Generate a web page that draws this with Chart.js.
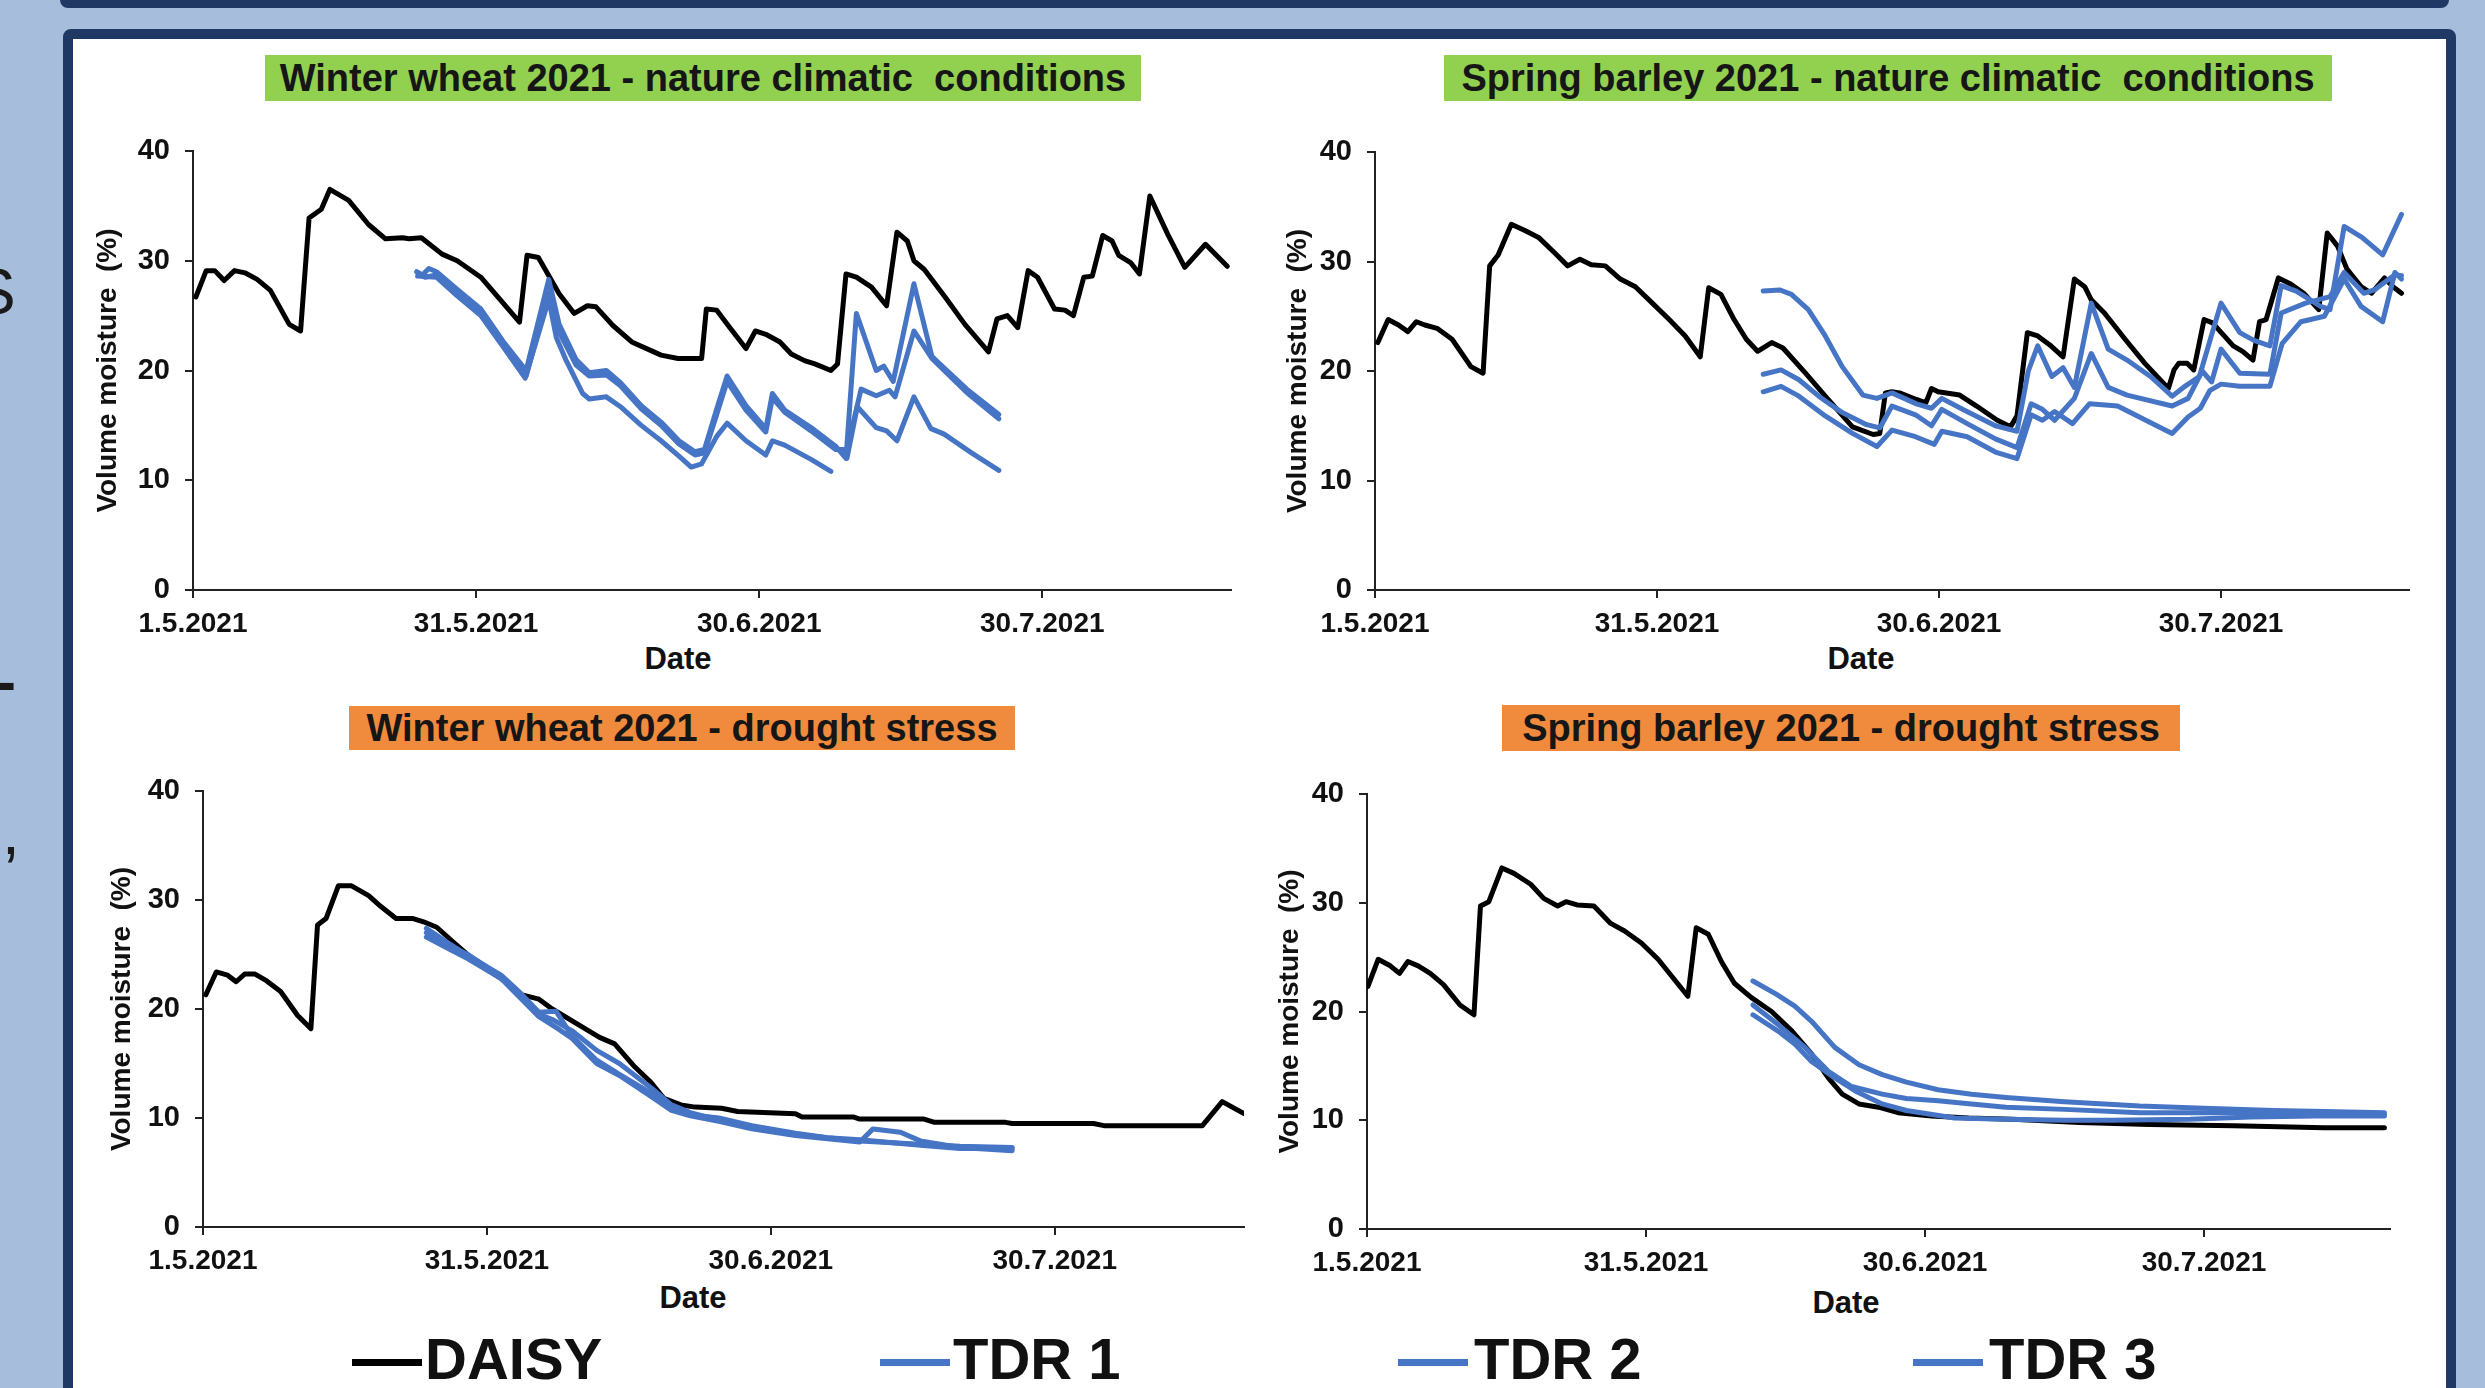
<!DOCTYPE html>
<html>
<head>
<meta charset="utf-8">
<title>Volume moisture 2021</title>
<script src="https://cdn.jsdelivr.net/npm/chart.js@4.4.1/dist/chart.umd.min.js"></script>
<style>
  html, body { margin: 0; padding: 0; }
  body {
    width: 2485px; height: 1388px; overflow: hidden; position: relative;
    background: #a6bddc; font-family: 'Liberation Sans', Arial, sans-serif; color: #111;
  }
  .topbar { position: absolute; left: 60px; top: -14px; width: 2389px; height: 22px; background: #1f3864; border-radius: 8px; }
  .panel {
    position: absolute; left: 63px; top: 29px; width: 2393px; height: 1420px; box-sizing: border-box;
    background: #fff; border: 10px solid #1f3864; border-radius: 8px;
  }
  .frag { position: absolute; font-size: 64px; line-height: 1; color: #1a1a1a; }
  .title {
    position: absolute; height: 46px; display: flex; align-items: center; justify-content: center;
    font-weight: bold; font-size: 38px; color: #161616; white-space: pre;
  }
  .green { background: #92d050; }
  .orange { background: #f08a3c; }
  .xtitle { position: absolute; font-size: 31px; font-weight: bold; line-height: 1; transform: translate(-50%, -50%); }
  .leg-line { position: absolute; height: 7px; }
  .leg-text { position: absolute; top: 1330px; font-size: 58px; font-weight: bold; line-height: 58px; }
  canvas { position: absolute; }
</style>
</head>
<body>
<div class="topbar"></div>
<div class="frag" style="left:-27px; top:260px;">S</div>
<div class="frag" style="left:-4px; top:652px; font-size:60px; font-weight:bold;">-</div>
<div class="frag" style="left:2px; top:800px;">,</div>
<div class="panel"></div>

<div class="title green" style="left:265px; top:55px; width:876px;">Winter wheat 2021 - nature climatic  conditions</div>
<div class="title green" style="left:1444px; top:55px; width:888px;">Spring barley 2021 - nature climatic  conditions</div>
<div class="title orange" style="left:349px; top:706px; width:666px; height:44px;">Winter wheat 2021 - drought stress</div>
<div class="title orange" style="left:1502px; top:705px; width:678px;">Spring barley 2021 - drought stress</div>

<div class="xtitle" style="left:678px; top:658px;">Date</div>
<div class="xtitle" style="left:1861px; top:658px;">Date</div>
<div class="xtitle" style="left:693px; top:1297px;">Date</div>
<div class="xtitle" style="left:1846px; top:1302px;">Date</div>

<div id="legend"></div>

<script>
const DAY_MAX = 110;
const dateTicks = [0, 30, 60, 90];
const dateLabels = ['1.5.2021', '31.5.2021', '30.6.2021', '30.7.2021'];
const moistureTicks = [0, 10, 20, 30, 40];
const seriesNames = ['DAISY', 'TDR 1', 'TDR 2', 'TDR 3'];

// [day since 1.5.2021, volume moisture %]
// Winter wheat - nature climatic conditions
const wheatNatDaisy = [[0.3,26.7],[1.4,29.1],[2.3,29.1],[3.3,28.2],[4.4,29.1],[5.5,28.9],[6.8,28.3],[8.2,27.3],[10.2,24.2],[11.4,23.6],[12.3,33.9],[13.6,34.7],[14.5,36.5],[16.5,35.5],[18.6,33.3],[20.4,32.0],[22.2,32.1],[22.9,32.0],[24.2,32.1],[26.4,30.6],[28.0,30.0],[30.5,28.5],[32.3,26.7],[34.6,24.4],[35.4,30.5],[36.6,30.3],[38.8,27.0],[40.4,25.2],[41.8,25.9],[42.7,25.8],[44.5,24.1],[46.5,22.6],[49.6,21.4],[51.4,21.1],[53.9,21.1],[54.4,25.6],[55.5,25.5],[56.9,23.9],[58.6,22.0],[59.6,23.6],[60.7,23.3],[62.2,22.6],[63.4,21.5],[64.8,20.9],[65.9,20.6],[67.6,20.0],[68.3,20.6],[69.2,28.8],[70.3,28.5],[71.9,27.6],[73.5,25.9],[74.6,32.6],[75.7,31.8],[76.4,30.0],[77.5,29.2],[79.7,26.7],[81.8,24.2],[84.3,21.7],[85.2,24.7],[86.3,25.0],[87.4,23.9],[88.5,29.1],[89.5,28.5],[91.3,25.6],[92.4,25.5],[93.3,25.0],[94.4,28.5],[95.3,28.6],[96.4,32.3],[97.4,31.8],[98.1,30.5],[99.4,29.8],[100.3,28.8],[101.4,35.9],[103.3,32.4],[105.1,29.4],[107.3,31.5],[109.6,29.5]];
const wheatNatTdr1 = [[23.7,29.0],[24.3,28.7],[25.0,29.3],[25.8,29.0],[28.0,27.4],[30.5,25.6],[33.0,22.5],[35.3,20.0],[37.7,28.3],[38.8,24.2],[40.6,21.0],[42.0,19.8],[43.8,20.0],[45.3,18.9],[47.5,16.8],[49.6,15.3],[51.5,13.6],[53.2,12.6],[54.2,12.8],[55.5,16.5],[56.6,19.5],[58.6,16.8],[60.7,14.7],[61.4,17.9],[62.7,16.4],[65.5,14.8],[68.1,13.1],[69.2,12.0],[70.3,25.2],[72.4,20.0],[73.2,20.4],[74.2,19.0],[76.4,27.9],[78.3,21.3],[78.9,20.8],[82.0,18.3],[85.4,16.0]];
const wheatNatTdr2 = [[23.9,28.8],[24.6,28.5],[25.8,28.7],[28.0,27.0],[30.5,25.2],[33.0,22.2],[35.3,19.5],[37.7,27.0],[38.8,23.5],[40.6,20.5],[42.0,19.5],[43.8,19.6],[45.3,18.6],[47.5,16.5],[49.6,15.0],[51.5,13.3],[53.2,12.3],[54.2,12.5],[55.5,16.0],[56.6,19.0],[58.6,16.4],[60.7,14.4],[61.4,17.5],[62.7,16.2],[65.5,14.5],[68.1,12.8],[69.3,12.8],[70.8,18.3],[72.4,17.7],[73.8,18.2],[74.4,17.6],[76.4,23.6],[78.3,21.1],[82.0,18.0],[85.4,15.6]];
const wheatNatTdr3 = [[23.8,28.6],[25.8,28.5],[28.0,26.8],[30.5,25.0],[33.0,22.0],[35.2,19.3],[37.7,26.5],[38.5,23.0],[39.5,21.0],[41.3,17.9],[42.0,17.4],[43.8,17.6],[45.3,16.7],[47.5,15.0],[49.6,13.6],[51.5,12.2],[52.8,11.2],[53.9,11.5],[55.5,14.0],[56.6,15.2],[58.6,13.6],[60.7,12.3],[61.4,13.6],[62.7,13.2],[65.5,11.9],[67.6,10.8],[68.5,null],[69.3,12.0],[70.4,16.7],[72.4,14.8],[73.5,14.5],[74.6,13.6],[76.4,17.6],[78.2,14.7],[79.6,14.2],[82.5,12.5],[85.4,10.9]];

// Spring barley - nature climatic conditions
const barleyNatDaisy = [[0.3,22.6],[1.4,24.7],[2.5,24.2],[3.5,23.6],[4.4,24.5],[5.3,24.2],[6.6,23.9],[8.2,22.9],[10.2,20.4],[11.5,19.8],[12.2,29.6],[13.1,30.6],[14.5,33.4],[16.0,32.8],[17.4,32.2],[19.1,30.8],[20.5,29.6],[21.8,30.2],[23.0,29.7],[24.5,29.6],[26.1,28.4],[27.7,27.7],[29.5,26.2],[31.3,24.7],[33.0,23.2],[34.6,21.3],[35.5,27.6],[36.8,27.0],[38.2,24.7],[39.5,22.9],[40.7,21.8],[42.2,22.6],[43.4,22.1],[45.8,19.8],[47.9,17.7],[50.8,14.9],[53.0,14.2],[53.7,14.3],[54.3,18.0],[55.0,18.1],[55.8,18.0],[57.6,17.4],[58.6,17.1],[59.2,18.4],[59.9,18.1],[62.2,17.8],[64.0,16.8],[66.2,15.5],[67.6,14.9],[68.3,15.9],[69.4,23.5],[70.5,23.2],[71.9,22.3],[73.2,21.3],[74.4,28.4],[75.5,27.7],[76.2,26.5],[77.6,25.3],[79.8,22.9],[81.9,20.7],[84.4,18.4],[85.0,20.1],[85.5,20.7],[86.4,20.7],[87.1,20.1],[88.2,24.7],[89.1,24.4],[91.3,22.3],[92.3,21.8],[93.4,21.0],[94.1,24.5],[94.8,24.7],[96.1,28.5],[97.3,28.0],[98.8,27.1],[100.4,25.6],[101.3,32.6],[102.4,31.4],[103.4,29.3],[104.9,27.7],[106.0,27.1],[107.4,28.5],[108.3,27.7],[109.2,27.1]];
const barleyNatTdr1 = [[41.3,27.3],[43.1,27.4],[44.3,27.0],[46.1,25.6],[47.9,23.2],[49.7,20.4],[51.9,17.8],[53.4,17.5],[55.0,18.0],[57.6,17.0],[59.2,16.6],[60.3,17.5],[62.5,16.5],[66.0,15.0],[68.3,14.5],[69.5,20.0],[70.5,22.3],[72.0,19.5],[73.2,20.3],[74.4,18.5],[76.2,26.2],[78.0,22.0],[80.0,21.0],[82.5,19.5],[84.8,17.7],[86.0,18.5],[87.7,19.5],[90.0,26.2],[92.0,23.5],[93.5,22.8],[95.2,22.3],[96.4,27.8],[98.0,27.3],[100.6,25.9],[101.6,25.6],[103.1,33.2],[105.0,32.2],[107.2,30.6],[109.2,34.3]];
const barleyNatTdr2 = [[41.3,19.7],[43.2,20.1],[45.1,19.2],[47.2,17.7],[49.7,16.2],[52.3,15.1],[53.7,14.8],[55.0,16.8],[57.5,16.0],[59.2,15.0],[60.3,16.5],[63.0,15.2],[66.0,13.8],[68.3,13.0],[69.8,17.0],[71.0,16.5],[72.3,15.5],[74.4,17.5],[76.2,21.6],[78.0,18.5],[80.0,17.8],[84.8,16.8],[86.5,17.5],[88.0,20.0],[89.0,19.0],[90.0,22.0],[92.0,19.8],[95.2,19.7],[96.4,25.3],[99.0,26.2],[101.6,26.8],[103.1,29.0],[105.2,27.1],[106.3,27.4],[108.5,28.8],[109.2,28.7]];
const barleyNatTdr3 = [[41.3,18.1],[43.2,18.6],[45.1,17.7],[47.9,15.9],[50.8,14.3],[53.4,13.1],[55.0,14.6],[57.5,14.0],[59.5,13.3],[60.3,14.5],[63.0,14.0],[66.0,12.6],[68.3,12.0],[69.8,16.0],[71.0,15.5],[72.3,16.3],[74.2,15.2],[76.0,17.0],[79.0,16.8],[82.0,15.5],[84.8,14.3],[86.5,15.8],[87.8,16.6],[88.8,18.2],[90.0,18.8],[92.0,18.6],[95.2,18.6],[96.5,22.5],[98.5,24.5],[101.0,25.0],[103.1,28.4],[104.9,25.9],[107.2,24.5],[108.5,29.0],[109.2,28.4]];

// Winter wheat - drought stress
const wheatDryDaisy = [[0.3,21.3],[1.4,23.4],[2.6,23.1],[3.5,22.5],[4.4,23.2],[5.5,23.2],[6.7,22.6],[8.2,21.6],[10.0,19.4],[11.4,18.2],[12.1,27.7],[13.0,28.3],[14.3,31.3],[15.7,31.3],[17.5,30.4],[18.8,29.4],[20.4,28.3],[22.2,28.3],[23.3,28.0],[24.7,27.5],[26.5,26.1],[29.0,24.2],[31.5,22.8],[33.7,21.3],[35.5,20.9],[36.9,20.0],[39.4,18.7],[41.9,17.4],[43.5,16.8],[45.5,14.8],[47.3,13.3],[48.7,11.8],[50.5,11.2],[52.0,11.0],[54.8,10.9],[56.5,10.6],[62.6,10.4],[63.3,10.1],[68.7,10.1],[69.4,9.9],[76.2,9.9],[77.3,9.6],[84.8,9.6],[85.5,9.5],[94.1,9.5],[95.2,9.3],[105.6,9.3],[107.7,11.5],[110.0,10.4]];
const wheatDryTdr1 = [[23.6,27.4],[26.0,26.0],[28.0,24.9],[31.5,23.1],[33.5,21.5],[35.5,19.7],[37.3,19.8],[39.0,17.5],[41.6,15.3],[44.0,14.0],[47.3,12.3],[49.5,11.0],[51.5,10.3],[54.5,10.0],[58.0,9.3],[62.6,8.6],[66.0,8.2],[69.4,7.9],[75.8,7.6],[80.0,7.4],[85.5,7.3]];
const wheatDryTdr2 = [[23.6,26.6],[26.0,25.5],[28.0,24.6],[31.5,22.8],[35.5,19.3],[37.5,18.2],[39.0,17.3],[41.6,15.0],[44.0,13.9],[47.3,12.0],[49.5,10.7],[51.5,10.2],[54.5,9.7],[58.0,9.0],[62.6,8.4],[66.0,8.1],[69.4,7.8],[70.8,9.0],[73.7,8.7],[75.8,7.9],[80.0,7.3],[85.5,7.0]];
const wheatDryTdr3 = [[23.6,27.0],[26.0,25.8],[28.0,25.0],[31.5,23.0],[35.5,19.5],[37.0,19.0],[39.0,18.0],[41.6,16.2],[44.0,15.0],[47.3,12.8],[49.5,11.2],[51.5,10.5],[54.5,9.8],[58.0,9.2],[62.6,8.5],[66.0,8.2],[69.4,8.0],[75.8,7.5],[80.0,7.2],[85.5,7.2]];

// Spring barley - drought stress
const barleyDryDaisy = [[0.1,22.3],[1.2,24.8],[2.5,24.2],[3.5,23.5],[4.4,24.6],[5.5,24.2],[6.8,23.5],[8.2,22.5],[10.0,20.6],[11.5,19.7],[12.2,29.7],[13.1,30.1],[14.5,33.2],[15.8,32.7],[17.6,31.7],[19.0,30.4],[20.5,29.7],[21.4,30.1],[22.6,29.8],[24.4,29.7],[26.2,28.1],[27.7,27.4],[29.5,26.3],[31.3,24.8],[32.9,23.1],[34.5,21.4],[35.4,27.7],[36.7,27.1],[38.1,24.6],[39.5,22.6],[41.3,21.3],[43.5,20.0],[45.7,18.2],[47.8,16.1],[49.6,13.9],[51.1,12.4],[52.9,11.5],[55.0,11.2],[57.1,10.7],[60.7,10.4],[64.7,10.2],[69.4,10.1],[76.6,9.8],[84.2,9.6],[93.2,9.5],[102.9,9.3],[109.4,9.3]];
const barleyDryTdr1 = [[41.5,22.8],[44.0,21.6],[46.0,20.5],[47.8,19.1],[50.3,16.7],[52.9,15.1],[55.4,14.2],[58.0,13.5],[61.4,12.8],[65.0,12.4],[68.7,12.1],[75.0,11.7],[83.1,11.3],[90.0,11.1],[97.5,10.9],[103.0,10.8],[109.4,10.7]];
const barleyDryTdr2 = [[41.5,20.6],[44.2,18.8],[47.1,16.7],[49.6,14.5],[52.1,13.1],[55.4,12.4],[58.0,12.0],[61.4,11.8],[65.0,11.5],[68.7,11.2],[75.0,11.0],[83.1,10.7],[94.0,10.7],[100.0,10.6],[109.4,10.5]];
const barleyDryTdr3 = [[41.5,19.7],[44.2,18.2],[46.0,17.0],[47.8,15.4],[50.3,13.9],[52.5,12.7],[55.4,11.5],[58.0,10.9],[63.2,10.2],[68.7,10.1],[75.0,10.0],[80.0,10.0],[88.5,10.1],[95.0,10.3],[102.0,10.4],[109.4,10.4]];

const BLUE = '#4775c6';
const INK = '#111';
// top padding must exceed the y scale's own label overflow (half label + tick padding)
const PAD_TOP = 40, PAD_RIGHT = 30, PAD_BOTTOM = 56;

Chart.defaults.font.family = "'Liberation Sans', Arial, sans-serif";
Chart.defaults.color = INK;

// plot rectangles in page pixels; padL = room for the y ticks and the axis title
const panels = [
    { left: 193, top: 151, right: 1231, bottom: 590, padL: 102, series: [wheatNatDaisy, wheatNatTdr1, wheatNatTdr2, wheatNatTdr3] },
    { left: 1375, top: 152, right: 2409, bottom: 590, padL: 94, series: [barleyNatDaisy, barleyNatTdr1, barleyNatTdr2, barleyNatTdr3] },
    { left: 203, top: 791, right: 1244, bottom: 1227, padL: 98, series: [wheatDryDaisy, wheatDryTdr1, wheatDryTdr2, wheatDryTdr3] },
    { left: 1367, top: 794, right: 2390, bottom: 1229, padL: 94, series: [barleyDryDaisy, barleyDryTdr1, barleyDryTdr2, barleyDryTdr3] }
];

function makeChart(p) {
    const w = p.right - p.left + p.padL + PAD_RIGHT;
    const h = p.bottom - p.top + PAD_TOP + PAD_BOTTOM;
    const canvas = document.createElement('canvas');
    canvas.width = w;
    canvas.height = h;
    canvas.style.left = (p.left - p.padL) + 'px';
    canvas.style.top = (p.top - PAD_TOP) + 'px';
    canvas.style.width = w + 'px';
    canvas.style.height = h + 'px';
    document.body.appendChild(canvas);

    const datasets = p.series.map((pts, i) => ({
        label: seriesNames[i],
        data: pts.map(pt => ({ x: pt[0], y: pt[1] })),
        borderColor: i === 0 ? '#000' : BLUE,
        borderWidth: 5,
        pointRadius: 0,
        tension: 0,
        spanGaps: false,
        borderJoinStyle: 'round',
        borderCapStyle: 'round',
        order: i === 0 ? 1 : 0
    }));

    const axisGrid = { drawOnChartArea: false, drawTicks: true, tickLength: 8, color: '#222', lineWidth: 2 };
    const axisBorder = { display: true, color: '#222', width: 2 };

    new Chart(canvas, {
        type: 'line',
        data: { datasets },
        options: {
            responsive: false,
            animation: false,
            events: [],
            layout: { padding: { top: PAD_TOP, right: PAD_RIGHT, left: 0, bottom: 0 } },
            plugins: { legend: { display: false }, tooltip: { enabled: false } },
            scales: {
                x: {
                    type: 'linear', min: 0, max: DAY_MAX,
                    afterBuildTicks: s => { s.ticks = dateTicks.map(v => ({ value: v })); },
                    afterFit: s => { s.height = PAD_BOTTOM; },
                    ticks: {
                        autoSkip: false, maxRotation: 0, padding: 9, color: INK,
                        font: { size: 28, weight: 'bold' },
                        callback: v => dateLabels[dateTicks.indexOf(v)]
                    },
                    grid: axisGrid,
                    border: axisBorder
                },
                y: {
                    min: 0, max: 40,
                    afterBuildTicks: s => { s.ticks = moistureTicks.map(v => ({ value: v })); },
                    afterFit: s => { s.width = p.padL; },
                    ticks: { padding: 15, color: INK, font: { size: 29, weight: 'bold' } },
                    grid: axisGrid,
                    border: axisBorder,
                    title: {
                        display: true, text: 'Volume moisture  (%)', color: INK, padding: 0,
                        font: { size: 28, weight: 'bold' }
                    }
                }
            }
        }
    });
}

panels.forEach(makeChart);

// legend across the bottom of the panel
const legendItems = [
    { name: seriesNames[0], color: '#000', line: 352, text: 425 },
    { name: seriesNames[1], color: BLUE, line: 880, text: 953 },
    { name: seriesNames[2], color: BLUE, line: 1398, text: 1474 },
    { name: seriesNames[3], color: BLUE, line: 1913, text: 1989 }
];
const legend = document.getElementById('legend');
legendItems.forEach(it => {
    const ln = document.createElement('div');
    ln.className = 'leg-line';
    ln.style.cssText = `left:${it.line}px; top:1359px; width:70px; background:${it.color};`;
    legend.appendChild(ln);
    const tx = document.createElement('div');
    tx.className = 'leg-text';
    tx.style.left = it.text + 'px';
    tx.textContent = it.name;
    legend.appendChild(tx);
});
</script>
</body>
</html>
